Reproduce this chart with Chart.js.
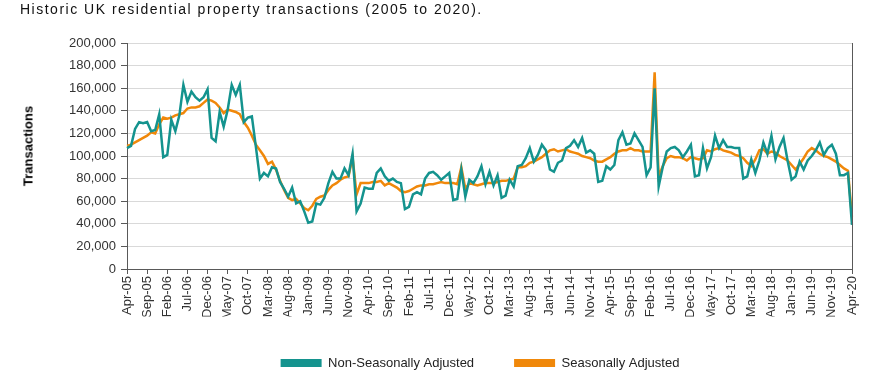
<!DOCTYPE html>
<html lang="en">
<head>
  <meta http-equiv="Content-Type" content="text/html; charset=UTF-8"/>
  <title>Historic UK residential property transactions</title>
  <script src="https://cdn.jsdelivr.net/npm/chart.js@4.4.1/dist/chart.umd.min.js"></script>
  <style>
    body { margin: 0; background: #fff; font-family: "Liberation Sans", Arial, sans-serif; }
    #contenedor { position: relative; width: 876px; height: 381px; }
    #grafico { position: absolute; left: 0; top: 0; }
    #titulo { position: absolute; left: 20px; top: 1px; font-size: 14px; letter-spacing: 1.5px; color: #111; white-space: nowrap; }
    #tituloY { position: absolute; left: 28px; top: 146px; transform: translate(-50%, -50%) rotate(-90deg);
               font-size: 13px; font-weight: bold; color: #000; white-space: nowrap; }
  </style>
</head>
<body>
  <div id="contenedor">
    <canvas id="grafico" width="876" height="381"></canvas>
    <div id="titulo">Historic UK residential property transactions (2005 to 2020).</div>
    <div id="tituloY">Transactions</div>
  </div>

  <script>
    // monthly values, Apr-05 to Apr-20
    var noAjustado = [
      107000,109000,124000,130000,129000,130000,122000,123000,137000,99000,101000,132000,
      122000,136000,163000,148000,157000,152000,149000,152000,159000,116000,113000,139000,
      126000,141000,163000,154000,163000,130000,134000,135000,108000,80000,85000,82000,
      90000,89000,77000,71000,64000,72000,58000,60000,51000,41000,42000,58000,
      57000,63000,76000,86000,80000,80000,89000,83000,102000,51000,58000,72000,
      71000,71000,85000,89000,82000,78000,80000,77000,76000,53000,55000,66000,
      68000,66000,80000,85000,86000,83000,79000,82000,85000,61000,62000,88000,
      64000,79000,76000,82000,91000,75000,86000,74000,83000,63000,65000,79000,
      73000,91000,92000,98000,107000,95000,101000,110000,105000,88000,86000,94000,
      96000,107000,109000,114000,108000,116000,103000,105000,102000,77000,78000,91000,
      88000,92000,114000,121000,110000,111000,120000,114000,108000,83000,90000,160000,
      73000,90000,104000,107000,108000,105000,99000,104000,110000,82000,83000,107000,
      89000,99000,118000,107000,114000,108000,108000,107000,107000,80000,82000,97000,
      85000,96000,112000,102000,118000,97000,108000,116000,96000,79000,82000,95000,
      88000,96000,100000,105000,112000,101000,107000,110000,102000,83000,83000,85000,
      39000
    ];

    var ajustado = [
      109000,110000,112000,114000,116000,118000,121000,120000,128000,134000,133000,134000,
      136000,137000,138000,142000,143000,143000,144000,147000,150000,149000,147000,143000,
      138000,141000,140000,139000,137000,130000,125000,118000,110000,105000,100000,93000,
      95000,88000,78000,70000,63000,61000,62000,58000,54000,52000,56000,62000,
      64000,65000,70000,74000,76000,79000,81000,82000,99000,66000,76000,76000,
      76000,77000,77000,78000,74000,76000,74000,72000,69000,68000,69000,71000,
      73000,74000,74000,75000,75000,76000,77000,76000,76000,76000,75000,90000,
      71000,76000,75000,74000,75000,76000,76000,76000,77000,78000,78000,79000,
      80000,90000,90000,91000,94000,95000,97000,99000,102000,105000,106000,104000,
      105000,106000,104000,103000,102000,100000,99000,98000,96000,95000,95000,97000,
      99000,102000,104000,105000,105000,107000,105000,105000,104000,104000,104000,174000,
      82000,91000,98000,100000,99000,99000,98000,96000,99000,98000,97000,98000,
      105000,104000,106000,107000,105000,104000,103000,101000,100000,98000,94000,91000,
      97000,105000,106000,102000,104000,103000,100000,98000,96000,92000,88000,93000,
      98000,104000,107000,105000,102000,100000,99000,97000,95000,92000,89000,87000,
      46000
    ];

    // category labels: Apr-05 ... Apr-20
    var nombresMes = ['Jan','Feb','Mar','Apr','May','Jun','Jul','Aug','Sep','Oct','Nov','Dec'];
    var meses = [];
    for (var k = 0; k < noAjustado.length; k++) {
      var m = 3 + k;
      meses.push(nombresMes[m % 12] + '-' + String(5 + Math.floor(m / 12)).padStart(2, '0'));
    }
    var cadaCuanto = 5; // one tick label every 5 months

    var colorVerde = '#14938e';
    var colorNaranja = '#f0880a';
    var colorEje = '#595959';

    // thin line closing the plot on the right
    var bordeDerecho = {
      id: 'bordeDerecho',
      afterDraw: function (chart) {
        var ctx = chart.ctx, a = chart.chartArea;
        ctx.save();
        ctx.strokeStyle = colorEje;
        ctx.lineWidth = 1;
        ctx.beginPath();
        ctx.moveTo(Math.round(a.right) + 0.5, a.top);
        ctx.lineTo(Math.round(a.right) + 0.5, a.bottom);
        ctx.stroke();
        ctx.restore();
      }
    };

    // the legend in the original sits a little left of the plot centre
    var moverLeyenda = {
      id: 'moverLeyenda',
      afterLayout: function (chart) {
        chart.legend.left -= 9.5;
        chart.legend.right -= 9.5;
      }
    };

    Chart.defaults.font.family = '"Liberation Sans", Arial, sans-serif';
    Chart.defaults.font.size = 13;
    Chart.defaults.color = '#333';

    var ctx = document.getElementById('grafico').getContext('2d');
    var chart = new Chart(ctx, {
      type: 'line',
      data: {
        labels: meses,
        datasets: [{
          label: 'Non-Seasonally Adjusted',
          data: noAjustado,
          borderColor: colorVerde,
          backgroundColor: colorVerde,
          borderWidth: 2.5,
          pointRadius: 0,
          tension: 0
        }, {
          label: 'Seasonally Adjusted',
          data: ajustado,
          borderColor: colorNaranja,
          backgroundColor: colorNaranja,
          borderWidth: 2.5,
          pointRadius: 0,
          tension: 0
        }]
      },
      options: {
        responsive: false,
        animation: false,
        devicePixelRatio: 1,
        layout: { padding: { top: 43, right: 24, bottom: 1.5, left: 0 } },
        plugins: {
          legend: {
            position: 'bottom',
            fullSize: false,
            labels: {
              boxWidth: 41,
              boxHeight: 8,
              padding: 40,
              color: '#222',
              font: { size: 13 },
              generateLabels: function (chart) {
                var items = Chart.defaults.plugins.legend.labels.generateLabels(chart);
                items.forEach(function (it) { it.lineWidth = 0; });
                return items;
              }
            }
          },
          tooltip: { enabled: false }
        },
        scales: {
          x: {
            afterFit: function (s) { s.height = 47.5; },
            border: { color: colorEje },
            grid: {
              drawOnChartArea: false,
              color: 'transparent',
              tickLength: 5,
              tickColor: function (c) { return c.index % cadaCuanto === 0 ? colorEje : 'transparent'; }
            },
            ticks: {
              autoSkip: false,
              minRotation: 90,
              maxRotation: 90,
              padding: 2,
              color: '#333',
              callback: function (v, i) { return i % cadaCuanto === 0 ? meses[i] : ''; }
            }
          },
          y: {
            min: 0,
            max: 200000,
            afterFit: function (s) { s.width = 127; },
            border: { color: colorEje },
            grid: {
              color: function (c) { return c.tick && c.tick.value === 0 ? 'transparent' : '#d9d9d9'; },
              tickColor: colorEje,
              tickLength: 6
            },
            ticks: {
              stepSize: 20000,
              padding: 5,
              color: '#333',
              callback: function (v) { return v.toLocaleString('en-GB'); }
            }
          }
        }
      },
      plugins: [bordeDerecho, moverLeyenda]
    });
  </script>
</body>
</html>
